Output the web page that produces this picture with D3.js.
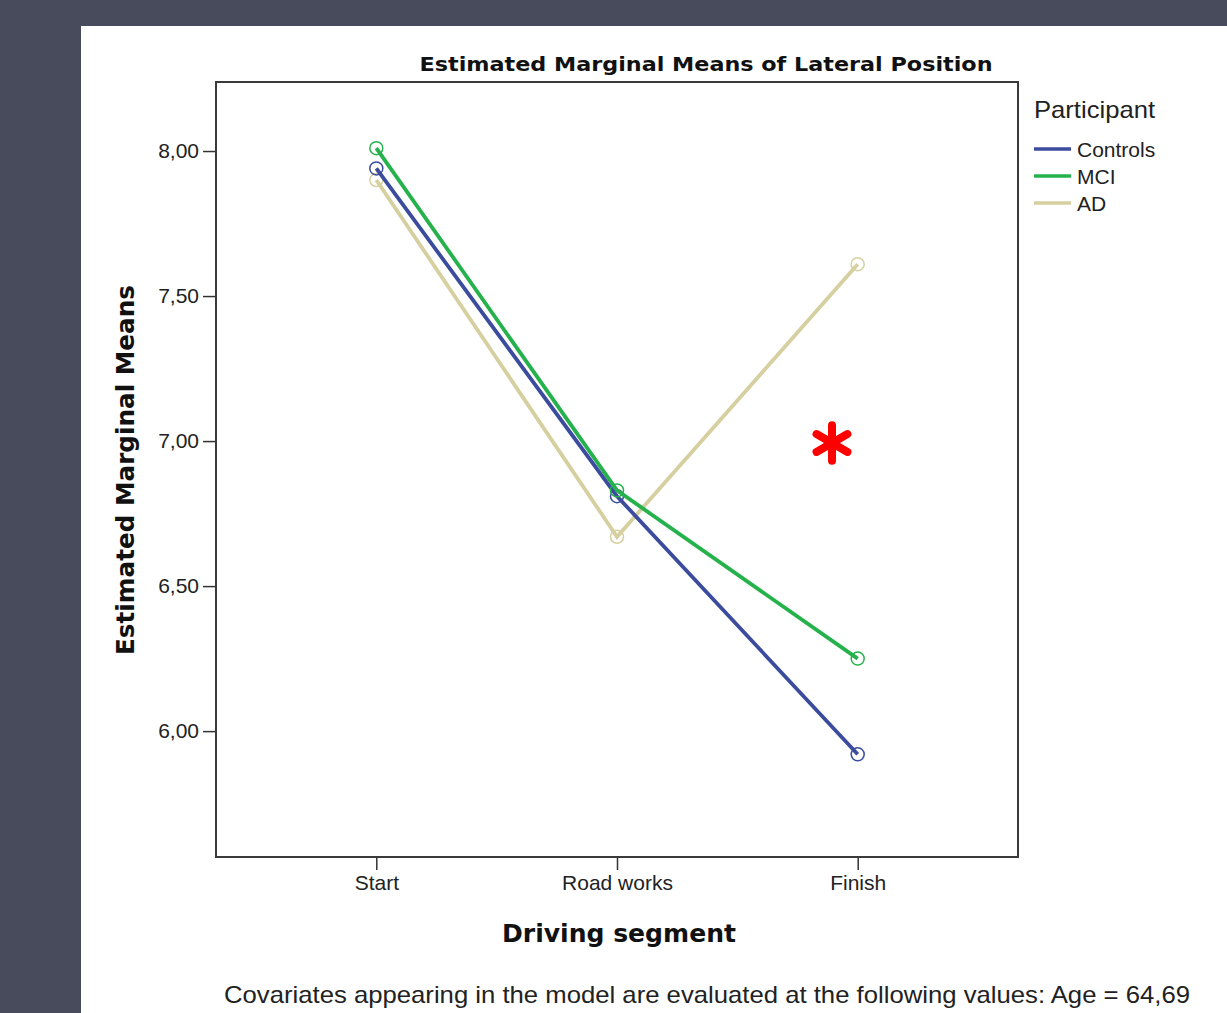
<!DOCTYPE html>
<html>
<head>
<meta charset="utf-8">
<script src="https://cdn.jsdelivr.net/npm/d3@7"></script>
<style>
    body { margin: 0; background: #484b5b; }
    svg { display: block; }
    .tick text { font-family: 'Liberation Sans', Arial, sans-serif; font-size: 21px; fill: #222; }
    .tick line { stroke: #333; stroke-width: 1.5; }
</style>
</head>
<body>
<svg id="chart" width="1227" height="1013"></svg>
<script>
// categories and values
const segments = ['Start', 'Road works', 'Finish']
const groups = ['Controls', 'MCI', 'AD']
const controls = [7.94, 6.81, 5.92]
const mci = [8.01, 6.83, 6.25]
const ad = [7.90, 6.67, 7.61]
const yTicks = [6.0, 6.5, 7.0, 7.5, 8.0]
const colors = ['#3b4c9e', '#25b24c', '#d6cfa0']

function main() {
    let svg = d3.select('#chart')

    // white panel behind the chart
    svg.append('rect')
        .attr('x', 81).attr('y', 26)
        .attr('width', 1227 - 81).attr('height', 1013 - 26)
        .attr('fill', '#fff')

    let frame = {left: 216, top: 82, right: 1018, bottom: 857}

    let x = d3.scalePoint()
        .domain(segments)
        .range([frame.left, frame.right])
        .padding(0.666)

    let y = d3.scaleLinear()
        .domain([5.566, 8.238])
        .range([frame.bottom, frame.top])

    let fmt = d => d3.format('.2f')(d).replace('.', ',')

    svg.append('g')
        .attr('transform', 'translate(' + frame.left + ',0)')
        .call(d3.axisLeft(y).tickValues(yTicks).tickFormat(fmt).tickSize(13).tickPadding(4))
        .call(g => g.select('.domain').remove())

    svg.append('g')
        .attr('transform', 'translate(0,' + frame.bottom + ')')
        .call(d3.axisBottom(x).tickSize(13).tickPadding(5))
        .call(g => g.select('.domain').remove())

    svg.append('rect')
        .attr('x', frame.left).attr('y', frame.top)
        .attr('width', frame.right - frame.left).attr('height', frame.bottom - frame.top)
        .attr('fill', 'none')
        .attr('stroke', '#3a3a3a')
        .attr('stroke-width', 2)

    let data = [controls, mci, ad].map((vals, i) => ({
        id: groups[i],
        color: colors[i],
        values: vals.map((v, j) => ({seg: segments[j], value: v}))
    }))

    let line = d3.line()
        .x(d => x(d.seg))
        .y(d => y(d.value))

    // AD drawn first, then Controls, MCI on top
    let order = [data[2], data[0], data[1]]

    let series = svg.selectAll('.series')
        .data(order)
        .enter().append('g')
        .attr('class', 'series')

    series.append('path')
        .attr('d', d => line(d.values))
        .attr('fill', 'none')
        .attr('stroke', d => d.color)
        .attr('stroke-width', 3.8)

    series.selectAll('circle')
        .data(d => d.values.map(v => ({...v, color: d.color})))
        .enter().append('circle')
        .attr('cx', d => x(d.seg))
        .attr('cy', d => y(d.value))
        .attr('r', 6.5)
        .attr('fill', 'none')
        .attr('stroke', d => d.color)
        .attr('stroke-width', 1.5)

    // titles (stretched to the widths seen in the picture)
    svg.append('text')
        .attr('x', 706).attr('y', 71)
        .attr('text-anchor', 'middle')
        .attr('textLength', 573)
        .attr('lengthAdjust', 'spacingAndGlyphs')
        .style('font-family', 'DejaVu Sans, sans-serif')
        .style('font-weight', 'bold')
        .style('font-size', '20px')
        .attr('fill', '#111')
        .text('Estimated Marginal Means of Lateral Position')

    svg.append('text')
        .attr('transform', 'translate(134,470) rotate(-90)')
        .attr('text-anchor', 'middle')
        .attr('textLength', 370)
        .attr('lengthAdjust', 'spacingAndGlyphs')
        .style('font-family', 'DejaVu Sans, sans-serif')
        .style('font-weight', 'bold')
        .style('font-size', '24px')
        .attr('fill', '#111')
        .text('Estimated Marginal Means')

    svg.append('text')
        .attr('x', 619).attr('y', 942)
        .attr('text-anchor', 'middle')
        .attr('textLength', 234)
        .attr('lengthAdjust', 'spacingAndGlyphs')
        .style('font-family', 'DejaVu Sans, sans-serif')
        .style('font-weight', 'bold')
        .style('font-size', '24px')
        .attr('fill', '#111')
        .text('Driving segment')

    svg.append('text')
        .attr('x', 707).attr('y', 1003)
        .attr('text-anchor', 'middle')
        .attr('textLength', 966)
        .attr('lengthAdjust', 'spacingAndGlyphs')
        .style('font-family', 'Liberation Sans, Arial, sans-serif')
        .style('font-size', '24px')
        .attr('fill', '#222')
        .text('Covariates appearing in the model are evaluated at the following values: Age = 64,69')

    // legend
    let legend = svg.append('g').attr('transform', 'translate(1034,0)')
    legend.append('text')
        .attr('x', 0).attr('y', 118)
        .attr('textLength', 121)
        .attr('lengthAdjust', 'spacingAndGlyphs')
        .style('font-family', 'Liberation Sans, Arial, sans-serif')
        .style('font-size', '24px')
        .attr('fill', '#222')
        .text('Participant')

    let item = legend.selectAll('.item')
        .data(data)
        .enter().append('g')
        .attr('class', 'item')
        .attr('transform', (d, i) => 'translate(0,' + (149 + i * 27) + ')')
    item.append('line')
        .attr('x1', 0).attr('x2', 37)
        .attr('stroke', d => d.color)
        .attr('stroke-width', 3.5)
    item.append('text')
        .attr('x', 43).attr('y', 8)
        .style('font-family', 'Liberation Sans, Arial, sans-serif')
        .style('font-size', '21px')
        .attr('fill', '#222')
        .text(d => d.id)

    // red significance mark
    svg.append('path')
        .attr('transform', 'translate(832,443)')
        .attr('d', d3.symbol().type(d3.symbolAsterisk).size(900)())
        .attr('fill', 'none')
        .attr('stroke', '#ff0000')
        .attr('stroke-width', 8)
        .attr('stroke-linecap', 'round')
}

main()
</script>
</body>
</html>
